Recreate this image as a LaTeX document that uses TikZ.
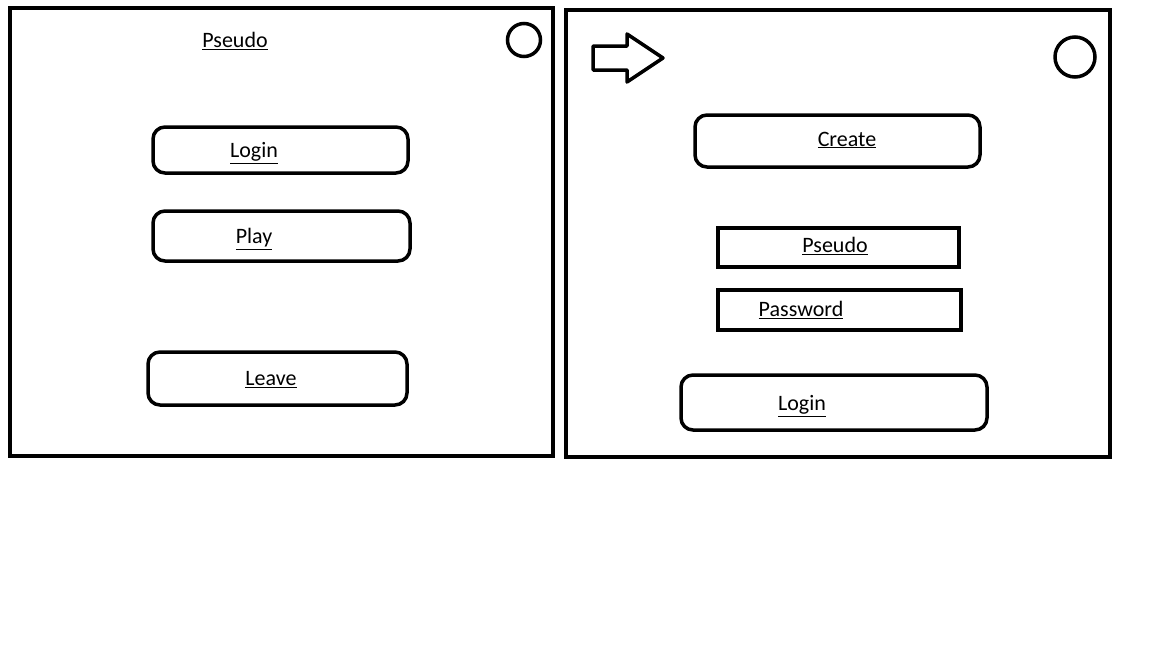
\documentclass[tikz,border=0pt]{standalone}
\usepackage{fontspec}
\setmainfont{Carlito}
\usepackage{tikz}

\begin{document}
\begin{tikzpicture}[x=1pt,y=-1pt,
        frame/.style={draw,line width=4pt},
        button/.style={draw,line width=3.5pt,rounded corners=12pt,minimum width=#1},
        field/.style={draw,line width=4pt,minimum width=#1},
        caption/.style={font=\fontsize{22}{26}\selectfont,inner sep=0pt}]
        \useasboundingbox (0,0) rectangle (1152,648);

        % the two screens
        \draw[frame] (10,8) rectangle (553,456);
        \draw[frame] (566,10) rectangle (1110,457);
        \node[draw,circle,line width=3.5pt,minimum size=33pt,inner sep=0pt] (closeA) at (524,40) {};
        \node[draw,circle,line width=3.5pt,minimum size=40pt,inner sep=0pt] (closeB) at (1075,57) {};
        \draw[line width=3.5pt,line join=round] (593,46) -- (627,46) -- (627,34) -- (663,58) -- (627,82) -- (627,70) -- (593,70) -- cycle;

        % first screen
        \node[caption] (title) at (235,41) {\underline{Pseudo}};
        \foreach [count=\i] \bx/\by/\w/\h/\tx/\ty/\txt in {280.5/150/255/46/254/153/Login,281.5/236/257/50/254/239/Play,277.5/378.5/259/53/271/380/Leave}{
            \node[button=\w pt,minimum height=\h pt] (btnA\i) at (\bx,\by) {};
            \node[caption] (txtA\i) at (\tx,\ty) {\underline{\txt}};
        }

        % second screen
        \node[button=285pt,minimum height=52pt] (create) at (837.5,141) {};
        \node[caption] (txtcreate) at (847,140) {\underline{Create}};
        \node[field=241pt,minimum height=39pt] (pseudo) at (838.5,247.5) {};
        \node[caption] (txtpseudo) at (835,246) {\underline{Pseudo}};
        \node[field=243pt,minimum height=40pt] (password) at (839.5,310) {};
        \node[caption] (txtpassword) at (801,310) {\underline{Password}};
        \node[button=306pt,minimum height=55pt] (login) at (834,402.5) {};
        \node[caption] (txtlogin) at (802,406) {\underline{Login}};
    \end{tikzpicture}
\end{document}
